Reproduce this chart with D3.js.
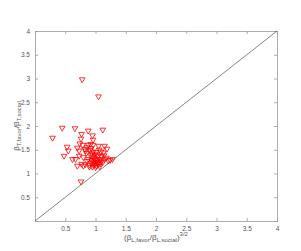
<!DOCTYPE html>
<html>
<head>
<meta charset="utf-8">
<script src="https://cdn.jsdelivr.net/npm/d3@7"></script>
<style>
  body { margin: 0; background: #fff; }
  text { font-family: "Liberation Sans", Arial, sans-serif; fill: #555; }
</style>
</head>
<body>
<div id="container"></div>
<script>
// DATA
// x: (beta_L,favor / beta_L,social)^(3/2), y: beta_T,favor / beta_T,social
const ratioL = [
  0.78, 1.05, 0.45, 0.66, 0.29, 1.12, 0.88, 0.77, 0.76, 0.95,
  0.96, 0.53, 0.55, 0.48, 0.62, 0.67, 0.76, 1.05, 1.15, 1.19,
  0.70, 0.73, 0.82, 0.88, 0.96, 0.79, 0.91, 0.96, 1.09, 0.85,
  0.73, 0.80, 1.02, 0.70, 0.77, 0.80, 0.90, 1.24, 1.28, 1.21,
  0.83, 1.13, 0.86, 0.74, 0.92, 0.92, 0.95, 0.98, 1.00, 1.02,
  0.94, 0.97, 1.00, 1.03, 1.06, 1.08, 1.10, 0.93, 0.96, 0.99,
  1.02, 1.05, 1.08, 1.12, 1.15, 1.00, 0.95, 1.04, 0.99, 1.10,
  1.14, 0.88, 0.86, 0.90, 1.07, 1.18, 0.94, 1.01, 0.84, 1.06,
  0.93
];
const ratioT = [
  2.98, 2.62, 1.96, 1.95, 1.75, 1.92, 1.90, 1.83, 1.73, 1.80,
  1.71, 1.56, 1.48, 1.37, 1.30, 1.30, 0.83, 1.58, 1.58, 1.52,
  1.54, 1.48, 1.51, 1.60, 1.60, 1.60, 1.49, 1.46, 1.46, 1.43,
  1.37, 1.34, 1.39, 1.16, 1.20, 1.16, 1.14, 1.28, 1.30, 1.27,
  1.19, 1.44, 1.55, 1.63, 1.62, 1.38, 1.35, 1.32, 1.30, 1.28,
  1.28, 1.25, 1.24, 1.22, 1.25, 1.30, 1.27, 1.22, 1.19, 1.18,
  1.16, 1.19, 1.21, 1.24, 1.30, 1.13, 1.14, 1.36, 1.40, 1.36,
  1.38, 1.30, 1.26, 1.18, 1.15, 1.33, 1.42, 1.45, 1.48, 1.50,
  1.53
];
const xTicks = [0.5, 1, 1.5, 2, 2.5, 3, 3.5, 4];
const yTicks = [0.5, 1, 1.5, 2, 2.5, 3, 3.5, 4];
const diagonal = [0, 4];

const points = ratioL.map(function(x, i) { return {x: x, y: ratioT[i]}; });

// SVG
const W = 301, H = 251;
const plotL = 35, plotR = 277, plotT = 31, plotB = 221;

const svg = d3.select("#container").append("svg")
    .attr("width", W)
    .attr("height", H);

// SCALES
const xScale = d3.scaleLinear().domain([0, 4]).range([plotL, plotR]);
const yScale = d3.scaleLinear().domain([0, 4]).range([plotB, plotT]);

// AXES (ticks inward, box style)
const axisColor = "#999";
const tickLen = 3;

const xAxisB = svg.append("g")
    .attr("transform", "translate(0," + plotB + ")")
    .call(d3.axisBottom(xScale).tickValues(xTicks).tickSize(-tickLen).tickPadding(5)
      .tickFormat(d3.format("")));
const xAxisT = svg.append("g")
    .attr("transform", "translate(0," + plotT + ")")
    .call(d3.axisTop(xScale).tickValues(xTicks).tickSize(-tickLen).tickFormat(""));
const yAxisL = svg.append("g")
    .attr("transform", "translate(" + plotL + ",0)")
    .call(d3.axisLeft(yScale).tickValues(yTicks).tickSize(-tickLen).tickPadding(5)
      .tickFormat(d3.format("")));
const yAxisR = svg.append("g")
    .attr("transform", "translate(" + plotR + ",0)")
    .call(d3.axisRight(yScale).tickValues(yTicks).tickSize(-tickLen).tickFormat(""));

[xAxisB, xAxisT, yAxisL, yAxisR].forEach(function(a) {
  a.select(".domain").attr("stroke", axisColor).attr("stroke-width", 0.8);
  a.selectAll(".tick line").attr("stroke", axisColor).attr("stroke-width", 0.8);
  a.selectAll(".tick text")
    .attr("font-size", 6.5)
    .attr("fill", "#555")
    .style("font-family", "Liberation Sans, Arial, sans-serif");
});

// DIAGONAL
svg.append("line")
    .attr("x1", xScale(diagonal[0])).attr("y1", yScale(diagonal[0]))
    .attr("x2", xScale(diagonal[1])).attr("y2", yScale(diagonal[1]))
    .attr("stroke", "#666")
    .attr("stroke-width", 0.8);

// MARKERS (downward triangles)
const tri = d3.symbol().type(d3.symbolTriangle).size(14);
svg.append("g")
    .selectAll("path")
    .data(points)
    .enter().append("path")
      .attr("d", tri)
      .attr("transform", function(d) {
        return "translate(" + xScale(d.x) + "," + yScale(d.y) + ") rotate(180)";
      })
      .attr("fill", "none")
      .attr("stroke", "#ff0000")
      .attr("stroke-width", 0.8);

// LABELS
const xLab = svg.append("text")
    .attr("x", (plotL + plotR) / 2)
    .attr("y", 240)
    .attr("text-anchor", "middle")
    .attr("font-size", 8);
xLab.append("tspan").text("(\u03B2");
xLab.append("tspan").attr("font-size", 6).attr("dy", 2).text("L,favor");
xLab.append("tspan").attr("dy", -2).text("/\u03B2");
xLab.append("tspan").attr("font-size", 6).attr("dy", 2).text("L,social");
xLab.append("tspan").attr("dy", -2).text(")");
xLab.append("tspan").attr("font-size", 6).attr("dy", -4).text("3/2");

const yLab = svg.append("text")
    .attr("transform", "translate(19," + (plotT + plotB) / 2 + ") rotate(-90)")
    .attr("text-anchor", "middle")
    .attr("font-size", 8);
yLab.append("tspan").text("\u03B2");
yLab.append("tspan").attr("font-size", 6).attr("dy", 2).text("T,favor");
yLab.append("tspan").attr("dy", -2).text("/\u03B2");
yLab.append("tspan").attr("font-size", 6).attr("dy", 2).text("T,social");
</script>
</body>
</html>
